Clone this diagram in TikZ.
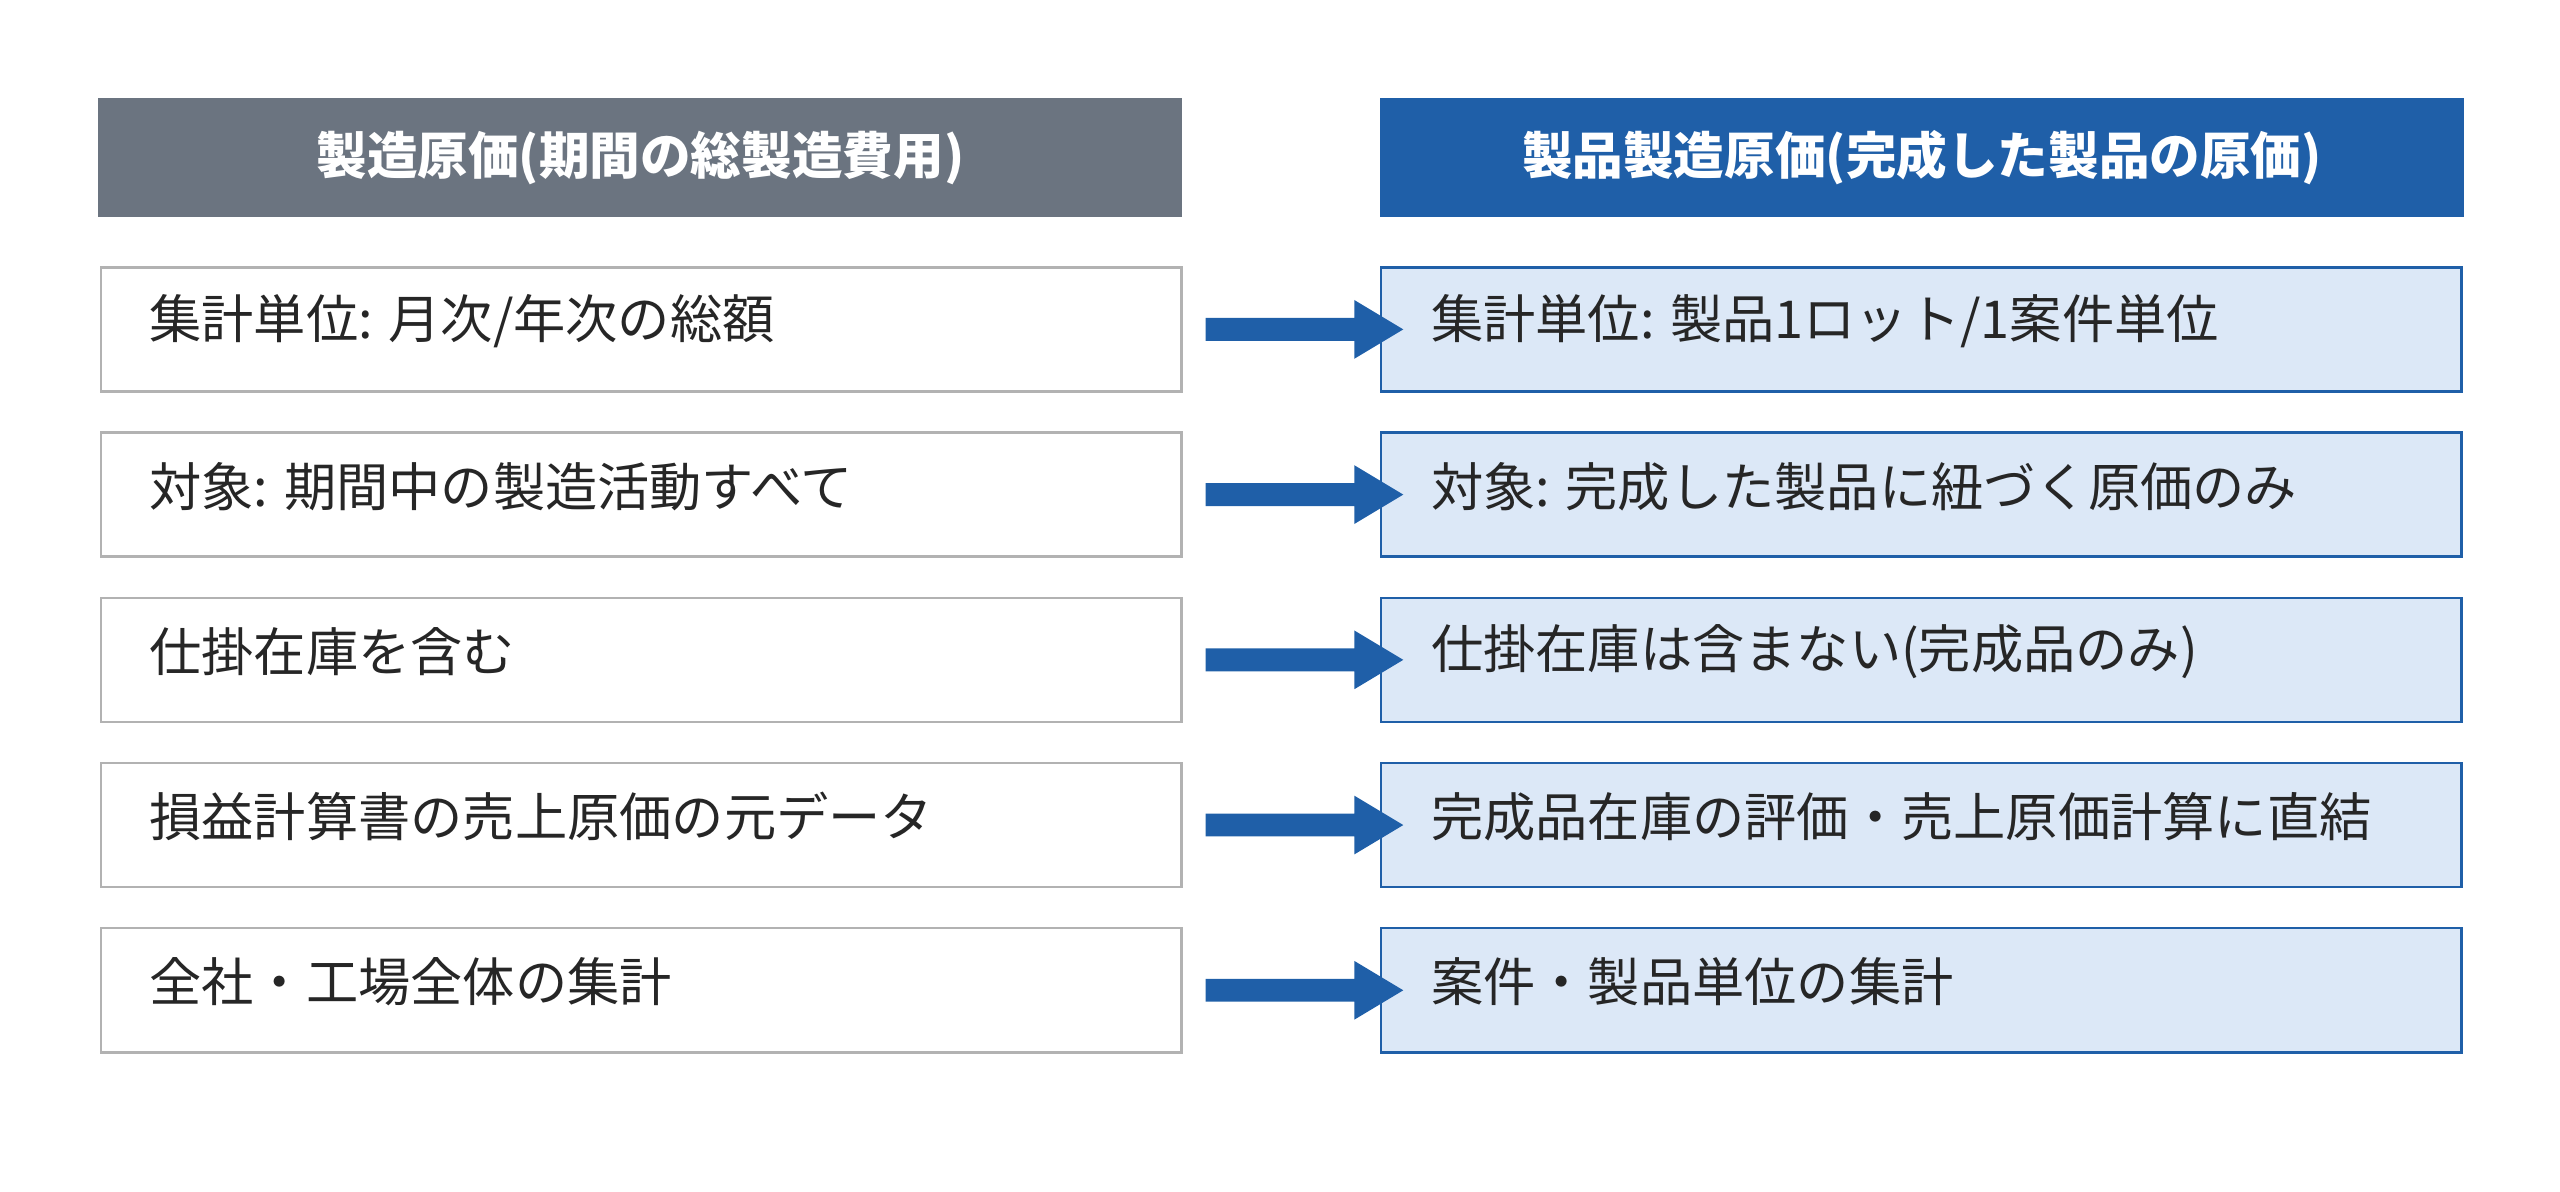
\documentclass[tikz,border=0pt]{standalone}
\usepackage{fontspec}
\setmainfont{Noto Sans CJK JP}
\begin{document}
\begin{tikzpicture}[x=1pt,y=-1pt,
  hdr/.style={draw=none,minimum width=664pt,minimum height=73pt,anchor=north west,text=white,font=\fontsize{31}{36}\selectfont\bfseries},
  lbox/.style={draw=black!30,line width=1.5pt,fill=white,minimum width=662pt,minimum height=76pt,anchor=north west},
  rbox/.style={draw=bl,line width=1.5pt,fill=lb,minimum width=662pt,minimum height=76pt,anchor=north west},
  txt/.style={anchor=west,font=\fontsize{32}{36}\selectfont,text=black!85},
  arr/.style={fill=bl,draw=none}]
\definecolor{gr}{HTML}{6B7480}
\definecolor{bl}{HTML}{1F5FA8}
\definecolor{lb}{HTML}{DCE8F7}
\useasboundingbox (0,0) rectangle (1568,730);
\node[hdr,fill=gr] (h1) at (60,60) {製造原価(期間の総製造費用)};
\node[hdr,fill=bl] (h2) at (845,60) {製品製造原価(完成した製品の原価)};
\foreach \i/\l/\r in {0/{集計単位: 月次/年次の総額}/{集計単位: 製品1ロット/1案件単位},
  1/{対象: 期間中の製造活動すべて}/{対象: 完成した製品に紐づく原価のみ},
  2/{仕掛在庫を含む}/{仕掛在庫は含まない(完成品のみ)},
  3/{損益計算書の売上原価の元データ}/{完成品在庫の評価・売上原価計算に直結},
  4/{全社・工場全体の集計}/{案件・製品単位の集計}}{
  \pgfmathsetmacro\yy{163+101.2*\i}
  \node[lbox] (l\i) at (61,\yy) {};
  \node[rbox] (r\i) at (845,\yy) {};
  \node[txt] (lt\i) at ([xshift=27pt,yshift=5pt]l\i.west) {\l};
  \node[txt] (rt\i) at ([xshift=28pt,yshift=5pt]r\i.west) {\r};
  \fill[arr] ([xshift=14pt,yshift=7pt]l\i.east) -- ++(91,0) -- ++(0,-11) -- ++(30,18) -- ++(-30,18) -- ++(0,-11) -- ++(-91,0) -- cycle;
}
\end{tikzpicture}
\end{document}
